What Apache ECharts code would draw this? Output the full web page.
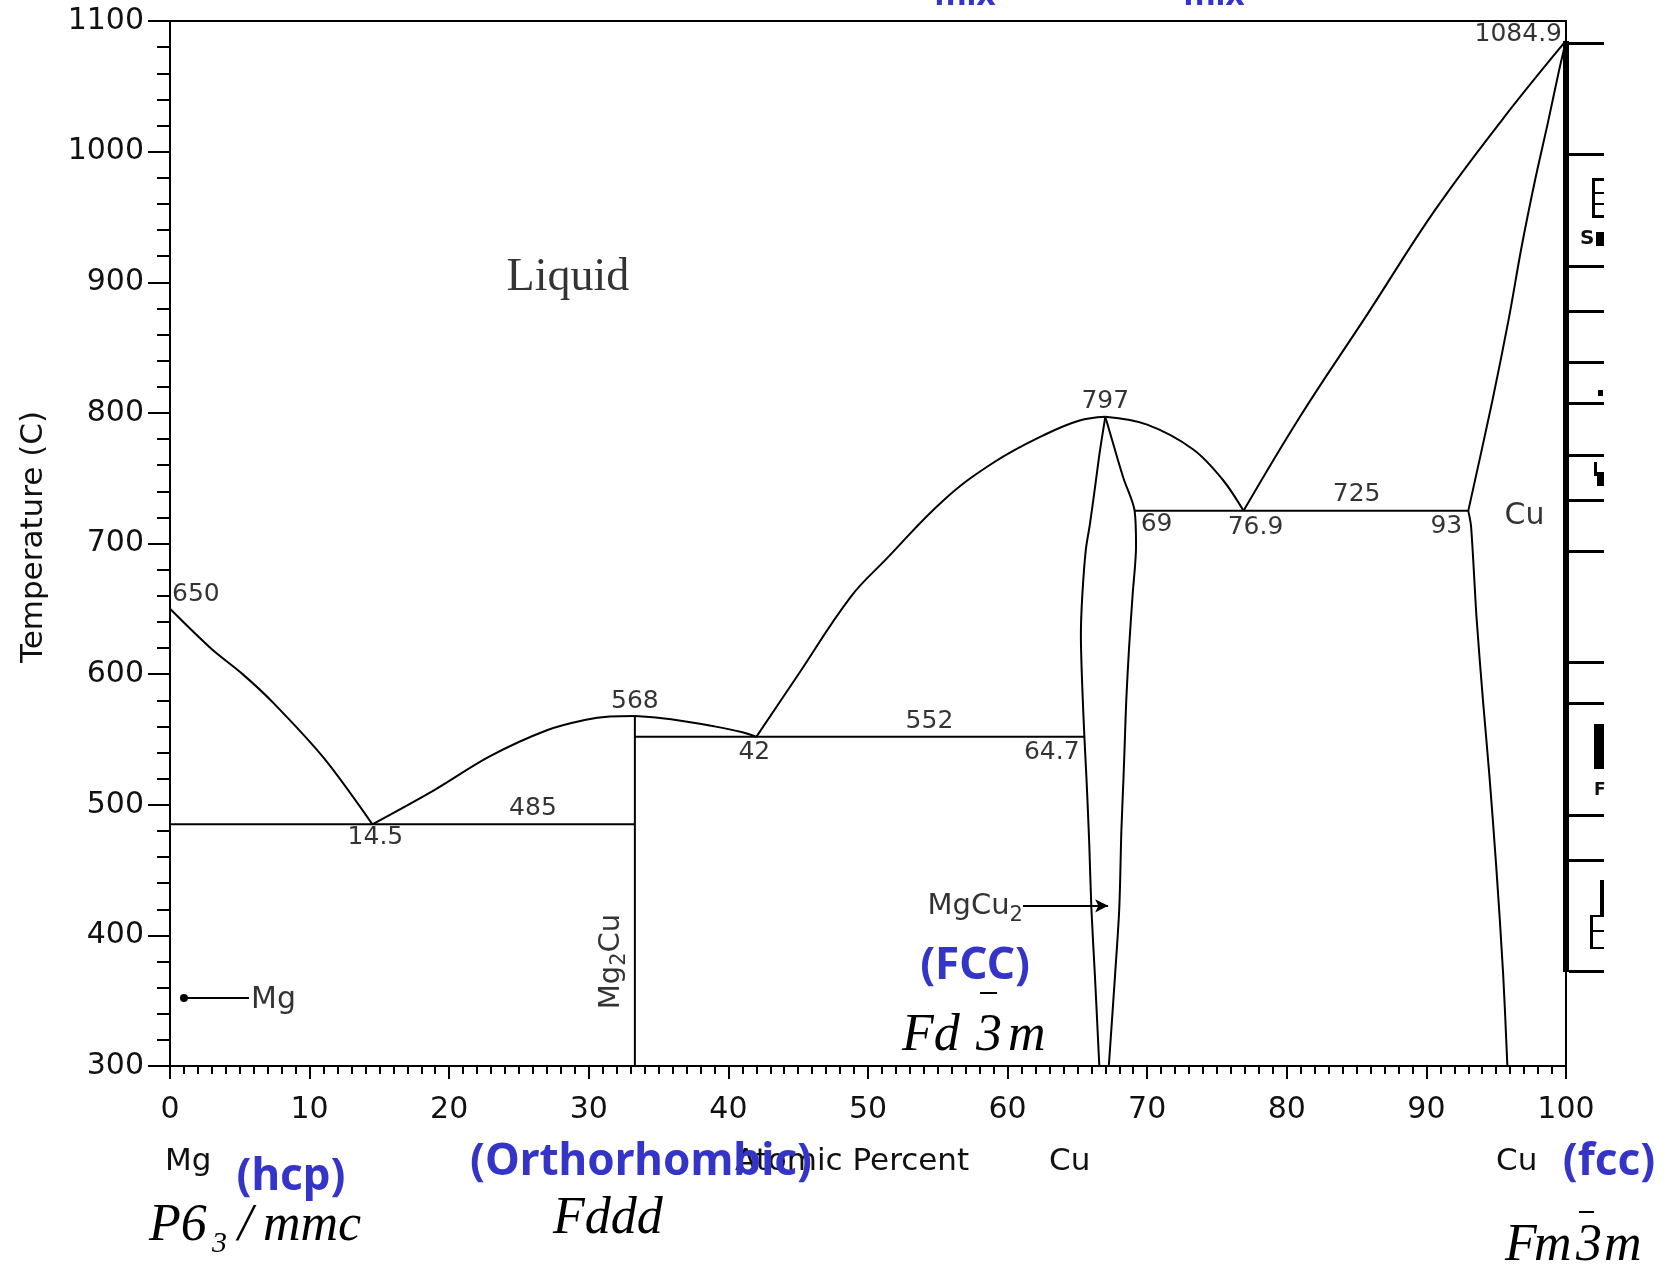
<!DOCTYPE html>
<html>
<head>
<meta charset="utf-8">
<script src="https://cdn.jsdelivr.net/npm/echarts@6/dist/echarts.min.js"></script>
<style>
html,body{margin:0;padding:0;background:#fff;}
#c{width:1670px;height:1268px;}
</style>
</head>
<body>
<div id="c"></div>
<script>
// ---------------- DATA ----------------
const xTicks = [0, 10, 20, 30, 40, 50, 60, 70, 80, 90, 100];          // Atomic Percent Cu
const yTicks = [300, 400, 500, 600, 700, 800, 900, 1000, 1100];      // Temperature (C)

// liquidus branches [at% Cu, T]
const liquidusMg      = [[0,650],[3.0,619],[5.2,600],[7.4,578],[11.0,536],[14.5,485]];
const liquidusMg2CuL  = [[14.5,485],[18.9,511],[22.9,537],[27.0,557],[29.8,565],[31.5,567.5],[33.3,568]];
const liquidusMg2CuR  = [[33.3,568],[35.9,565.5],[39.0,560],[41.0,555.5],[42,552]];
const liquidusMgCu2L  = [[42,552],[44.9,598],[48.75,659],[51.3,688],[55.4,733],[59.0,762],[62.6,783],[65.1,794],[67.0,797]];
const liquidusMgCu2R  = [[67.0,797],[70.0,791],[73.3,772],[75.4,749],[76.9,725]];
const liquidusCu      = [[76.9,725],[81.0,798],[85.8,876],[90.6,955],[95.4,1024],[100,1084.9]];
// solidus / solvus of (Cu)
const solidusCu       = [[100,1084.9],[99.5,1062],[98.7,1022],[97.8,979],[96.8,926],[95.9,872],[94.7,808],[93.0,725]];
const solvusCu        = [[93.0,725],[93.2,713],[93.6,642],[94.06,579],[94.5,524],[95.0,453],[95.5,370],[95.8,300]];
// MgCu2 homogeneity range
const mgcu2Left       = [[67.0,797],[66.6,770],[66.3,746],[65.9,715],[65.6,695],[65.35,660],[65.25,630],[65.35,590],[65.5,552],[65.65,520],[65.85,470],[66.0,421],[66.25,370],[66.57,300]];
const mgcu2Right      = [[67.0,797],[67.6,775],[68.3,750],[69.1,725],[69.2,698],[68.95,660],[68.7,620],[68.5,580],[68.4,550],[68.3,520],[68.15,480],[68.0,421],[67.7,370],[67.25,300]];
// Mg2Cu line compound
const mg2cuLine       = [[33.3,300],[33.3,568]];
// invariant tie lines
const tie485          = [[0,485],[33.3,485]];
const tie552          = [[33.3,552],[65.5,552]];
const tie725          = [[69.1,725],[93.0,725]];

// point labels: text, at% Cu, T
const ptText = ['650','14.5','485','568','42','552','64.7','797','69','76.9','725','93','1084.9'];
const ptX    = [0, 14.5, 26, 33.3, 42, 54.4, 65.3, 67, 69.1, 76.9, 85, 93, 100];
const ptT    = [650, 485, 485, 568, 552, 552, 552, 797, 725, 725, 725, 725, 1084.9];

// phase labels
const phaseText = ['Liquid', 'Cu'];
const phaseX    = [28.5, 95.6];
const phaseT    = [903, 725];

// pointers
const mgPointer    = [[1.0,352],[5.66,352]];
const mgcu2Pointer = [[61.1,422.6],[67.2,422.6]];
const mg2cuLabel   = [31.6, 380];

// ---------------- CHART ----------------
const INK = '#000';
const SANS = 'DejaVu Sans';
const SERIF = 'Liberation Serif';
const BLUE = '#3434c8';

function boundary(name, data, smooth) {
  return {
    name: name, type: 'line', data: data,
    symbol: 'none', showSymbol: false,
    smooth: smooth || false,
    lineStyle: {color: INK, width: 2},
    silent: true, animation: false, z: 3
  };
}

// label placement (style only)
const ptPlace = [
  {align:'left',   va:'bottom', off:[2,-2]},   // 650
  {align:'center', va:'top',    off:[3,1]},    // 14.5
  {align:'center', va:'bottom', off:[0,-3]},   // 485
  {align:'center', va:'bottom', off:[0,-2]},   // 568
  {align:'center', va:'top',    off:[-2,3]},   // 42
  {align:'center', va:'bottom', off:[0,-3]},   // 552
  {align:'right',  va:'top',    off:[-2,3]},   // 64.7
  {align:'center', va:'bottom', off:[0,-3]},   // 797
  {align:'left',   va:'top',    off:[6,1]},    // 69
  {align:'center', va:'top',    off:[12,4]},   // 76.9
  {align:'center', va:'bottom', off:[0,-4]},   // 725
  {align:'right',  va:'top',    off:[-6,3]},   // 93
  {align:'right',  va:'middle', off:[-4,-6]}   // 1084.9
];

const labelData = ptText.map((t, i) => ({
  value: [ptX[i], ptT[i]],
  label: {
    show: true, formatter: t, position: 'inside',
    align: ptPlace[i].align, verticalAlign: ptPlace[i].va, offset: ptPlace[i].off,
    fontFamily: SANS, fontSize: 25, color: INK
  }
}));

labelData.push({
  value: [phaseX[0], phaseT[0]],
  label: {show: true, formatter: phaseText[0], position: 'inside', align: 'center', verticalAlign: 'middle',
          fontFamily: SERIF, fontSize: 46, color: INK}
});
labelData.push({
  value: [phaseX[1], phaseT[1]],
  label: {show: true, formatter: phaseText[1], position: 'inside', align: 'left', verticalAlign: 'middle', offset: [0, 5],
          fontFamily: SANS, fontSize: 30, color: INK}
});
labelData.push({
  value: [mgPointer[1][0], mgPointer[1][1]],
  label: {show: true, formatter: 'Mg', position: 'inside', align: 'left', verticalAlign: 'middle', offset: [2, 2],
          fontFamily: SANS, fontSize: 30, color: INK}
});
labelData.push({
  value: [mgcu2Pointer[0][0], mgcu2Pointer[0][1]],
  label: {show: true, formatter: 'MgCu{s|2}', position: 'inside', align: 'right', verticalAlign: 'middle', offset: [0, 1],
          fontFamily: SANS, fontSize: 29, lineHeight: 38, color: INK,
          rich: {s: {fontFamily: SANS, fontSize: 21, lineHeight: 22, verticalAlign: 'bottom', color: INK}}}
});
labelData.push({
  value: mg2cuLabel,
  label: {show: true, formatter: 'Mg{s|2}Cu', position: 'inside', align: 'center', verticalAlign: 'middle', rotate: 90,
          fontFamily: SANS, fontSize: 29, lineHeight: 38, color: INK,
          rich: {s: {fontFamily: SANS, fontSize: 21, lineHeight: 22, verticalAlign: 'bottom', color: INK}}}
});

function serifText(text, x, baseline, size) {
  return {type: 'text', x: x, y: baseline - 0.33 * size, z: 50,
          style: {text: text, fontFamily: SERIF, fontStyle: 'italic', fontSize: size, fill: '#000',
                  align: 'left', verticalAlign: 'middle'}};
}
function blueText(text, cx, cy, size) {
  return {type: 'text', x: cx, y: cy, z: 60,
          style: {text: text, fontFamily: 'Noto Sans', fontWeight: 'bold', fontSize: size, fill: BLUE,
                  align: 'center', verticalAlign: 'middle'}};
}
function blackText(text, x, cy, size) {
  return {type: 'text', x: x, y: cy, z: 40,
          style: {text: text, fontFamily: SANS, fontSize: size, fill: '#111', align: 'left', verticalAlign: 'middle'}};
}
function rect(x, y, w, h) {
  return {type: 'rect', shape: {x: x, y: y, width: w, height: h}, style: {fill: '#000'}, z: 30, silent: true};
}

const graphics = [
  {type: 'text', x: 34, y: 537, rotation: Math.PI / 2, z: 40,
   style: {text: 'Temperature (C)', fontFamily: SANS, fontSize: 31, fill: '#111', align: 'center', verticalAlign: 'middle'}},
  blackText('Mg', 165, 1162, 31),
  blackText('Atomic Percent', 735, 1162, 31),
  blackText('Cu', 1049, 1162, 31),
  blackText('Cu', 1496, 1162, 31),
  // space groups
  serifText('P6', 149, 1243, 52),
  serifText('3', 212, 1254, 30),
  serifText('/', 238, 1243, 52),
  serifText('mmc', 263, 1243, 52),
  serifText('Fddd', 553, 1236, 52),
  serifText('Fd', 902, 1053, 52),
  serifText('3', 976, 1053, 52),
  serifText('m', 1008, 1053, 52),
  rect(980, 992, 17, 2),
  serifText('F', 1505, 1263, 52),
  serifText('m', 1534, 1263, 52),
  serifText('3', 1576, 1263, 52),
  serifText('m', 1604, 1263, 52),
  rect(1579, 1211, 15, 2),
  // blue structure names
  blueText('(hcp)', 291, 1177, 44),
  blueText('(Orthorhombic)', 641, 1162, 44),
  blueText('(fcc)', 1609, 1162, 44),
  blueText('(FCC)', 975, 966, 44),
  blueText('mix', 965, -4, 33),
  blueText('mix', 1214, -4, 33),
  // cropped side panel remnants
  rect(1563, 41, 6, 931)
];
[43, 154, 266, 311, 362, 403, 455, 500, 551, 662, 703, 815, 860, 971].forEach(y => graphics.push(rect(1569, y - 1, 35, 3)));
graphics.push(rect(1592, 178, 3, 40), rect(1592, 178, 12, 3), rect(1592, 215, 12, 3), rect(1595, 192, 9, 2), rect(1595, 203, 9, 2));
graphics.push({type: 'text', x: 1580, y: 239, z: 40, style: {text: 'S', fontFamily: SANS, fontWeight: 'bold', fontSize: 20, fill: '#111', align: 'left', verticalAlign: 'middle'}});
graphics.push(rect(1596, 232, 8, 14));
graphics.push(rect(1598, 390, 5, 6));
graphics.push(rect(1594, 462, 3, 14), rect(1597, 472, 7, 14));
graphics.push(rect(1594, 724, 10, 45));
graphics.push({type: 'text', x: 1594, y: 791, z: 40, style: {text: 'F', fontFamily: SANS, fontWeight: 'bold', fontSize: 17, fill: '#111', align: 'left', verticalAlign: 'middle'}});
graphics.push(rect(1600, 880, 4, 35), rect(1590, 915, 3, 34), rect(1590, 915, 14, 2), rect(1590, 947, 14, 2), rect(1590, 930, 14, 2));

const chart = echarts.init(document.getElementById('c'), null, {renderer: 'canvas', width: 1670, height: 1268});

chart.setOption({
  animation: false,
  backgroundColor: '#fff',
  grid: {left: 170, right: 104, top: 21, bottom: 202, show: true, borderColor: INK, borderWidth: 2, backgroundColor: 'transparent'},
  xAxis: {
    type: 'value',
    min: xTicks[0], max: xTicks[xTicks.length - 1], interval: xTicks[1] - xTicks[0],
    axisLine: {show: true, onZero: false, lineStyle: {color: INK, width: 2}},
    axisTick: {show: true, length: 13, lineStyle: {color: INK, width: 2}},
    minorTick: {show: true, splitNumber: 10, length: 8, lineStyle: {color: INK, width: 2}},
    splitLine: {show: false},
    axisLabel: {fontFamily: SANS, fontSize: 30, color: '#111', margin: 29, formatter: v => String(v)}
  },
  yAxis: {
    type: 'value',
    min: yTicks[0], max: yTicks[yTicks.length - 1], interval: yTicks[1] - yTicks[0],
    axisLine: {show: true, lineStyle: {color: INK, width: 2}},
    axisTick: {show: true, length: 22, lineStyle: {color: INK, width: 2}},
    minorTick: {show: true, splitNumber: 5, length: 13, lineStyle: {color: INK, width: 2}},
    splitLine: {show: false},
    axisLabel: {fontFamily: SANS, fontSize: 30, color: '#111', margin: 26, formatter: v => String(v)}
  },
  series: [
    boundary('liqMg', liquidusMg, 0.3),
    boundary('liqMg2CuL', liquidusMg2CuL, 0.35),
    boundary('liqMg2CuR', liquidusMg2CuR, 0.35),
    boundary('liqMgCu2L', liquidusMgCu2L, 0.4),
    boundary('liqMgCu2R', liquidusMgCu2R, 0.35),
    boundary('liqCu', liquidusCu, 0.4),
    boundary('solCu', solidusCu, 0.3),
    boundary('solvCu', solvusCu, 0.3),
    boundary('mgcu2L', mgcu2Left, 0.3),
    boundary('mgcu2R', mgcu2Right, 0.3),
    boundary('mg2cu', mg2cuLine, false),
    boundary('t485', tie485, false),
    boundary('t552', tie552, false),
    boundary('t725', tie725, false),
    {
      name: 'pointers', type: 'line', data: [], silent: true,
      markLine: {
        silent: true, animation: false,
        label: {show: false},
        lineStyle: {color: INK, width: 2, type: 'solid'},
        data: [
          [{coord: mgPointer[0], symbol: 'circle', symbolSize: 8}, {coord: mgPointer[1], symbol: 'none'}],
          [{coord: mgcu2Pointer[0], symbol: 'none'}, {coord: mgcu2Pointer[1], symbol: 'arrow', symbolSize: [10, 13]}]
        ]
      }
    },
    {
      name: 'labels', type: 'scatter', data: labelData,
      symbolSize: 0, silent: true, z: 10,
      itemStyle: {color: 'transparent'}
    }
  ],
  graphic: graphics
});
</script>
</body>
</html>
